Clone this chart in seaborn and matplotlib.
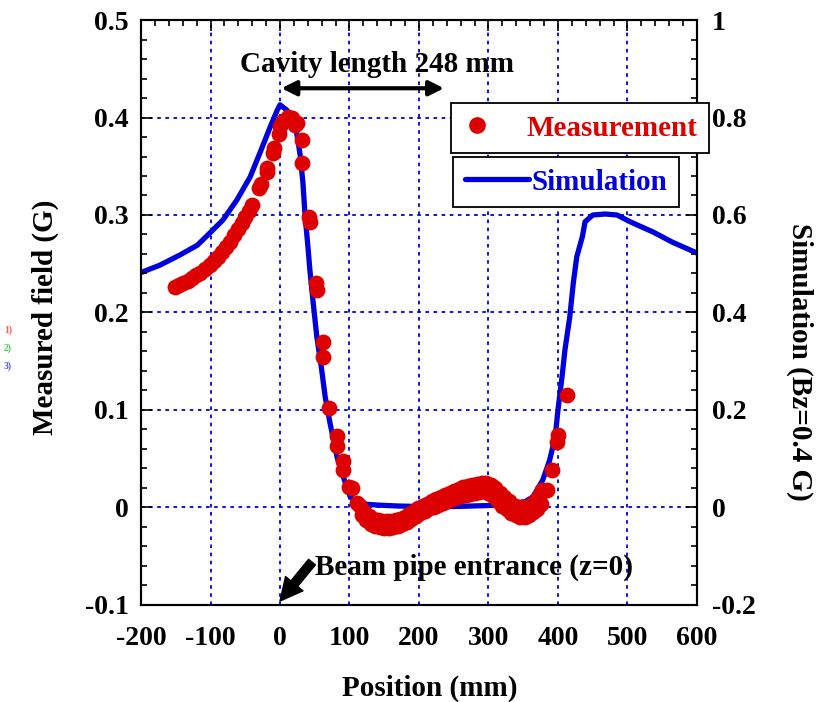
import matplotlib
matplotlib.use("Agg")
import matplotlib.pyplot as plt
from matplotlib.lines import Line2D
from matplotlib.ticker import MultipleLocator, FuncFormatter
import seaborn as sns
import pandas as pd

# Measured field along the cavity axis (position in mm, field in G)
meas_pos = [
    -151, -146, -140, -133, -127, -121, -115, -108, -101, -95, -89, -83, -78, -72,
    -66, -60, -55, -50, -45, -40, -30, -27, -19, -18, -10, -9, -2, 0, 5, 12, 17,
    22, 24, 32, 32, 42, 43, 52, 53, 62, 62, 70, 82, 82, 91, 91, 100, 103, 111,
    115, 121, 128, 134, 141, 147, 154, 160, 167, 173, 180, 186, 193, 199, 206,
    212, 219, 225, 232, 238, 245, 251, 258, 264, 271, 277, 284, 290, 297, 303,
    310, 316, 323, 329, 336, 342, 349, 355, 361, 367, 372, 377,
    118, 124, 131, 137, 144, 150, 157, 163, 170, 176, 183, 189, 196, 202, 209,
    215, 222, 228, 235, 241, 248, 254, 261, 267, 274, 280, 287, 293, 300, 306,
    313, 319, 326, 332, 339, 345, 352, 358, 364, 370, 376,
    384, 391, 399, 400, 413,
]
meas_field = [
    0.226, 0.228, 0.230, 0.232, 0.235, 0.238, 0.241, 0.245, 0.249, 0.253, 0.257,
    0.262, 0.267, 0.272, 0.279, 0.286, 0.292, 0.298, 0.304, 0.310, 0.328, 0.332,
    0.344, 0.348, 0.364, 0.369, 0.383, 0.391, 0.396, 0.401, 0.399, 0.392, 0.394,
    0.377, 0.353, 0.298, 0.293, 0.230, 0.223, 0.170, 0.154, 0.102, 0.073, 0.063,
    0.048, 0.038, 0.021, 0.020, 0.005,
    0.002, -0.005, -0.009, -0.012, -0.013, -0.014, -0.014, -0.014, -0.013,
    -0.012, -0.010, -0.007, -0.004, -0.001, 0.002, 0.004, 0.007, 0.009, 0.011,
    0.013, 0.015, 0.017, 0.019, 0.021, 0.022, 0.023, 0.024, 0.025, 0.025,
    0.023, 0.020, 0.015, 0.011, 0.007, 0.003, 0.001, 0.000, 0.001, 0.003,
    0.007, 0.012, 0.018,
    -0.008, -0.013, -0.017, -0.019, -0.020, -0.021, -0.021, -0.020, -0.019,
    -0.017, -0.015, -0.012, -0.009, -0.006, -0.004, -0.001, 0.001, 0.003,
    0.005, 0.007, 0.009, 0.011, 0.012, 0.013, 0.014, 0.015, 0.016, 0.017,
    0.015, 0.012, 0.007, 0.002, -0.002, -0.006, -0.008, -0.010, -0.010,
    -0.008, -0.005, -0.002, 0.004,
    0.018, 0.038, 0.067, 0.074, 0.115,
]

# Simulated Bz profile (normalised to Bz = 0.4 G)
sim_pos = [
    -200, -173, -144, -119, -101, -82, -62, -43, -29, -14, -4, 0, 10, 19, 24,
    29, 33, 36, 40, 43, 47, 53, 60, 65, 72, 82, 91, 101, 110, 120, 140, 170,
    200, 250, 300, 330, 353, 364, 378, 388, 396, 400, 406, 410, 417, 422, 427,
    435, 439, 450, 468, 485, 504, 537, 565, 600,
]
sim_bz = [
    0.482, 0.497, 0.518, 0.538, 0.563, 0.590, 0.631, 0.678, 0.727, 0.781,
    0.815, 0.826, 0.815, 0.785, 0.768, 0.723, 0.666, 0.600, 0.538, 0.487,
    0.430, 0.350, 0.282, 0.227, 0.173, 0.104, 0.063, 0.022, 0.010, 0.007,
    0.005, 0.003, 0.002, 0.002, 0.004, 0.008, 0.012, 0.022, 0.056, 0.097,
    0.145, 0.200, 0.270, 0.323, 0.391, 0.460, 0.514, 0.555, 0.586, 0.600,
    0.602, 0.600, 0.586, 0.565, 0.544, 0.522,
]

x_ticks = [-200, -100, 0, 100, 200, 300, 400, 500, 600]
left_ticks = [-0.1, 0, 0.1, 0.2, 0.3, 0.4, 0.5]
right_ticks = [-0.2, 0, 0.2, 0.4, 0.6, 0.8, 1.0]

meas_df = pd.DataFrame({"pos": meas_pos, "field": meas_field})
sim_df = pd.DataFrame({"pos": sim_pos, "bz": sim_bz})

sns.set_theme(style="white")
plt.rcParams["font.family"] = ["Liberation Serif", "DejaVu Serif"]
plt.rcParams["font.weight"] = "bold"
plt.rcParams["axes.unicode_minus"] = False
plt.rcParams["text.color"] = "black"
plt.rcParams["axes.labelcolor"] = "black"

RED = "#dd0000"
BLUE = "#0000dd"
FS = 21      # titles, annotations, legend
TFS = 20     # tick labels

fig = plt.figure(figsize=(8.31, 7.02), dpi=100)
ax = fig.add_axes([0.1697, 0.1382, 0.669, 0.8333])
ax2 = ax.twinx()

# simulation on the right axis, drawn underneath the measured points
sns.lineplot(data=sim_df, x="pos", y="bz", ax=ax2, color=BLUE, lw=3.8,
             estimator=None, sort=False, legend=False)
ax2.set_ylim(-0.2, 1.0)
ax2.set_yticks(right_ticks)
ax2.yaxis.set_minor_locator(MultipleLocator(0.04))
ax2.xaxis.set_visible(True)
ax2.grid(True, which="major", color=BLUE, ls=(0, (2, 2.5)), lw=1.3)
ax2.set_axisbelow(True)
ax2.set_ylabel("")
ax2.set_xlabel("")

sns.scatterplot(data=meas_df, x="pos", y="field", ax=ax, color=RED, s=130,
                linewidth=0, legend=False, zorder=3)
ax.set_zorder(ax2.get_zorder() + 1)
ax.patch.set_visible(False)
ax.set_xlim(-200, 600)
ax.set_ylim(-0.1, 0.5)
ax.set_xticks(x_ticks)
ax.set_yticks(left_ticks)
ax.xaxis.set_minor_locator(MultipleLocator(20))
ax.yaxis.set_minor_locator(MultipleLocator(0.02))
ax.grid(False)
ax.set_xlabel("")
ax.set_ylabel("")

fmt = FuncFormatter(lambda v, p: f"{v:g}")
ax.xaxis.set_major_formatter(fmt)
ax.yaxis.set_major_formatter(fmt)
ax2.yaxis.set_major_formatter(fmt)

for a in (ax, ax2):
    for s in a.spines.values():
        s.set_color("black")
        s.set_linewidth(1.5)
ax.tick_params(which="both", direction="in", top=True, right=False,
               labelsize=TFS, colors="black", width=1.2)
ax.tick_params(which="major", length=8)
ax.tick_params(axis="y", which="major", pad=9)
ax.tick_params(axis="x", which="major", pad=15)
ax.tick_params(which="minor", length=4)
ax2.tick_params(which="both", direction="in", labelsize=TFS, colors="black",
                width=1.2)
ax2.tick_params(which="major", length=8, pad=11)
ax2.tick_params(which="minor", length=4)
ax2.tick_params(axis="x", which="both", bottom=False, top=False,
                labelbottom=False, labeltop=False)
for lab in ax.get_xticklabels() + ax.get_yticklabels() + ax2.get_yticklabels():
    lab.set_fontweight("bold")

# axis titles
fig.text(430 / 831, 1 - 688 / 702, "Position (mm)", ha="center", va="center",
         fontsize=FS, fontweight="bold")
fig.text(45 / 831, 1 - 317 / 702, "Measured field (G)", ha="center",
         va="center", rotation=90, fontsize=FS, fontweight="bold")
fig.text(800 / 831, 1 - 362 / 702, "Simulation (Bz=0.4 G)", ha="center",
         va="center", rotation=270, fontsize=FS, fontweight="bold")

# small series keys at the far left
for i, (t, c) in enumerate([("1)", "#ff5555"), ("2)", "#44cc44"), ("3)", "#5555ff")]):
    fig.text(12 / 831, 1 - (330 + 18 * i) / 702, t, ha="right", va="center",
             fontsize=7, color=c, fontweight="bold")

# cavity length arrow
ax.annotate("", xy=(236, 0.430), xytext=(2, 0.430),
            arrowprops=dict(arrowstyle="<|-|>", color="black", lw=3,
                            mutation_scale=22, shrinkA=0, shrinkB=0))
ax.text(140, 0.454, "Cavity length 248 mm", ha="center", va="center",
        fontsize=FS, fontweight="bold")

# beam pipe entrance marker
ax.annotate("", xy=(0, -0.096), xytext=(46, -0.056),
            arrowprops=dict(arrowstyle="simple,head_length=0.9,head_width=0.9,tail_width=0.35",
                            color="black", shrinkA=0, shrinkB=0, mutation_scale=18))
ax.text(50, -0.061, "Beam pipe entrance (z=0)", ha="left", va="center",
        fontsize=FS, fontweight="bold")

# separate legend boxes for the two axes
h1 = Line2D([], [], marker="o", ls="none", color=RED, markersize=11)
leg1 = fig.legend([h1], ["Measurement"], loc="upper left",
                  bbox_to_anchor=(451 / 831, 1 - 103 / 702), frameon=True,
                  fancybox=False, edgecolor="black", framealpha=1,
                  prop=dict(size=FS, weight="bold"), handlelength=1.0,
                  handletextpad=1.2, borderpad=0.4, borderaxespad=0)
leg1.get_frame().set_linewidth(1.3)
leg1.get_texts()[0].set_color(RED)

h2 = Line2D([], [], color=BLUE, lw=3.8)
leg2 = fig.legend([h2], ["Simulation"], loc="upper left",
                  bbox_to_anchor=(453 / 831, 1 - 157 / 702), frameon=True,
                  fancybox=False, edgecolor="black", framealpha=1,
                  prop=dict(size=FS, weight="bold"), handlelength=2.2,
                  handletextpad=0.1, borderpad=0.4, borderaxespad=0)
leg2.get_frame().set_linewidth(1.3)
leg2.get_texts()[0].set_color(BLUE)

fig.savefig("out.png", dpi=100)
